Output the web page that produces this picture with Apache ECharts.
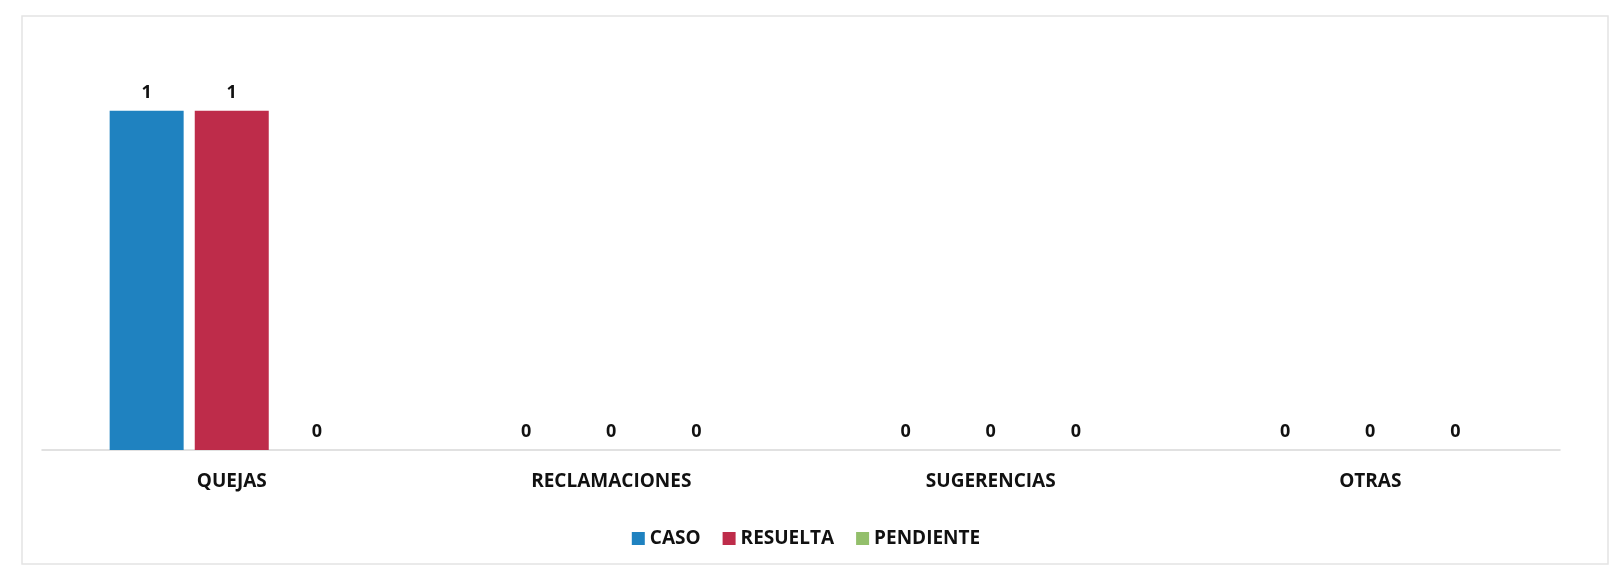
<!DOCTYPE html>
<html>
<head>
<meta charset="utf-8">
<script src="https://cdn.jsdelivr.net/npm/echarts@6/dist/echarts.min.js"></script>
<style>html,body{margin:0;padding:0;background:#fff;}#c{width:1612px;height:574px;}</style>
</head>
<body>
<div id="c"></div>
<script>
const categories = ['QUEJAS', 'RECLAMACIONES', 'SUGERENCIAS', 'OTRAS'];
const caso = [1, 0, 0, 0];
const resuelta = [1, 0, 0, 0];
const pendiente = [0, 0, 0, 0];
const seriesNames = ['CASO', 'RESUELTA', 'PENDIENTE'];
const colors = ['#1F82C0', '#BE2C4A', '#93BF6B'];

const chart = echarts.init(document.getElementById('c'));
const font = '"Open Sans", sans-serif';
const label = {show: true, position: 'top', distance: 9, color: '#111', fontWeight: 'bold', fontSize: 18, fontFamily: font};
chart.setOption({
  animation: false,
  color: colors,
  graphic: [{type: 'rect', shape: {x: 22, y: 16, width: 1586, height: 548}, style: {fill: 'none', stroke: '#e4e4e4', lineWidth: 1.5}, z: -1}],
  grid: {left: 42, right: 52, top: 43, bottom: 124},
  legend: {
    top: 524, left: 'center', itemWidth: 13, itemHeight: 13, itemGap: 22,
    icon: 'rect',
    textStyle: {fontWeight: 'bold', fontSize: 19, fontFamily: font, color: '#111', padding: [0, 0, 0, 0]},
    data: seriesNames
  },
  xAxis: {
    type: 'category', data: categories,
    axisTick: {show: false},
    axisLine: {lineStyle: {color: '#d8d8d8', width: 1.5}},
    axisLabel: {margin: 22, color: '#111', fontWeight: 'bold', fontSize: 19, fontFamily: font}
  },
  yAxis: {type: 'value', min: 0, max: 1.2, interval: 0.3, show: true, axisLine: {show: false}, axisLabel: {show: false}, axisTick: {show: false}, splitLine: {show: false}},
  series: [
    {name: seriesNames[0], type: 'bar', data: caso, barWidth: 74, barGap: '15%', label},
    {name: seriesNames[1], type: 'bar', data: resuelta, barWidth: 74, barGap: '15%', label},
    {name: seriesNames[2], type: 'bar', data: pendiente, barWidth: 74, barGap: '15%', label}
  ]
});
</script>
</body>
</html>
